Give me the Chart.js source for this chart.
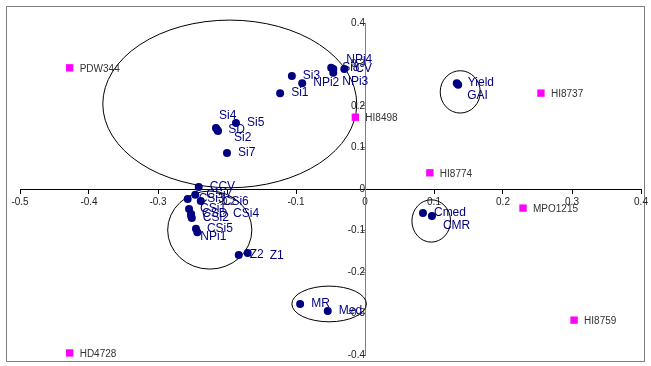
<!DOCTYPE html>
<html><head><meta charset="utf-8">
<script src="https://cdn.jsdelivr.net/npm/chart.js@4.4.1/dist/chart.umd.min.js"></script>
<style>html,body{margin:0;padding:0;background:#fff}canvas{display:block}</style>
</head><body>
<canvas id="c" width="651" height="366"></canvas>
<script>
// Trait vectors (blue dots)
const traitNames = ['Si3','NPi2','Si1','Si8','NPi4','NPi3','CV','Si4','SD','Si2','Si5','Si7',
  'CCV','CSi7','CSi3','CSi6','CSi1','CSD','CSi2','CSi4','CSi5','NPi1','Z2','Z1',
  'Yield','GAI','Cmed','CMR','MR','Med'];
const traitX = [-0.106,-0.091,-0.123,-0.049,-0.046,-0.046,-0.030,-0.216,-0.214,-0.213,-0.187,-0.200,
  -0.241,-0.246,-0.257,-0.238,-0.255,-0.252,-0.251,-0.252,-0.245,-0.243,-0.183,-0.170,
  0.133,0.135,0.084,0.097,-0.094,-0.054];
const traitY = [0.272,0.255,0.231,0.292,0.289,0.280,0.289,0.147,0.142,0.140,0.159,0.087,
  0.005,-0.014,-0.024,-0.029,-0.048,-0.060,-0.070,-0.065,-0.096,-0.104,-0.159,-0.154,
  0.255,0.251,-0.058,-0.065,-0.277,-0.294];
// Genotypes (magenta squares)
const genoNames = ['PDW344','HI8498','HI8737','HI8774','MPO1215','HI8759','HD4728'];
const genoX = [-0.428,-0.014,0.255,0.094,0.229,0.303,-0.428];
const genoY = [0.292,0.173,0.231,0.039,-0.046,-0.316,-0.395];
// Tick labels
const xTickLabels = ['-0.5','-0.4','-0.3','-0.2','-0.1','0','0.1','0.2','0.3','0.4'];
const yTickLabels = ['-0.4','-0.3','-0.2','-0.1','0','0.1','0.2','0.3','0.4'];
// Group ellipses (centre and radii in data units)
const ellipseCX = [-0.196,-0.225,0.138,0.096,-0.052];
const ellipseCY = [0.205,-0.099,0.234,-0.077,-0.277];
const ellipseRX = [0.184,0.061,0.029,0.028,0.054];
const ellipseRY = [0.202,0.094,0.051,0.051,0.043];

// label placement nudges (pixels) for crowded labels
const labelNudge = {NPi4:[13,-9], NPi3:[9,9], Si4:[3,-12], Si2:[16,7], CSi4:[42,-2],
  CSi6:[22,1], NPi1:[3,5], Z1:[22,3], GAI:[9,11], CMR:[11,10]};

const fmt = v => { const s = Number(v.toFixed(1)); return s === 0 ? '0' : String(s); };

const overlay = {
  id: 'overlay',
  beforeDraw(chart) {
    const c = chart.ctx;
    c.save();
    c.fillStyle = '#fff';
    c.fillRect(0, 0, chart.width, chart.height);
    c.strokeStyle = '#7f7f7f';
    c.lineWidth = 1;
    c.strokeRect(6.5, 6.5, 638, 355);
    c.restore();
  },
  beforeDatasetsDraw(chart) {
    const c = chart.ctx, xs = chart.scales.x, ys = chart.scales.y;
    c.save();
    c.strokeStyle = '#000';
    c.lineWidth = 1;
    for (let i = 0; i < ellipseCX.length; i++) {
      const px = xs.getPixelForValue(ellipseCX[i]);
      const py = ys.getPixelForValue(ellipseCY[i]);
      const rx = Math.abs(xs.getPixelForValue(ellipseCX[i] + ellipseRX[i]) - px);
      const ry = Math.abs(ys.getPixelForValue(ellipseCY[i] + ellipseRY[i]) - py);
      c.beginPath();
      c.ellipse(px, py, rx, ry, 0, 0, Math.PI * 2);
      c.stroke();
    }
    c.restore();
  },
  afterDatasetsDraw(chart) {
    const c = chart.ctx;
    c.save();
    c.textBaseline = 'middle';
    c.textAlign = 'left';
    const m0 = chart.getDatasetMeta(0);
    c.font = '12px "Liberation Sans", Arial, sans-serif';
    c.fillStyle = '#000080';
    m0.data.forEach((el, i) => {
      const n = traitNames[i];
      const d = labelNudge[n] || [11, 0];
      c.fillText(n, el.x + d[0], el.y + d[1]);
    });
    const m1 = chart.getDatasetMeta(1);
    c.font = '10px "Liberation Sans", Arial, sans-serif';
    c.fillStyle = '#333';
    m1.data.forEach((el, i) => {
      c.fillText(genoNames[i], el.x + 10, el.y + 1);
    });
    c.restore();
  }
};

new Chart(document.getElementById('c'), {
  type: 'scatter',
  data: {
    datasets: [
      { label: 'traits', data: traitNames.map((n, i) => ({x: traitX[i], y: traitY[i]})), clip: false,
        pointStyle: 'circle', pointRadius: 4, backgroundColor: '#000080', borderColor: '#000080', borderWidth: 0 },
      { label: 'genotypes', data: genoNames.map((n, i) => ({x: genoX[i], y: genoY[i]})), clip: false,
        pointStyle: 'rect', pointRadius: 5.2, backgroundColor: '#ff00ff', borderColor: '#ff00ff', borderWidth: 0 }
    ]
  },
  options: {
    responsive: false, animation: false, events: [],
    layout: { padding: { left: 20, right: 10, top: 23, bottom: 11 } },
    plugins: { legend: { display: false }, tooltip: { enabled: false } },
    scales: {
      x: {
        type: 'linear', position: { y: 0 }, min: -0.5, max: 0.4,
        ticks: { stepSize: 0.1, color: '#222', padding: 3, font: { family: '"Liberation Sans", Arial', size: 10 },
          callback: (v, i) => xTickLabels[i] !== undefined && xTickLabels[i] === fmt(v) ? xTickLabels[i] : fmt(v) },
        grid: { drawOnChartArea: false, drawTicks: true, tickLength: 4, color: '#000' },
        border: { color: '#000', width: 1 },
        afterFit(s) { s.height = 0; }
      },
      y: {
        type: 'linear', position: { x: 0 }, min: -0.4, max: 0.4,
        ticks: { stepSize: 0.1, color: '#222', padding: 2, font: { family: '"Liberation Sans", Arial', size: 10 },
          callback: (v, i) => yTickLabels[i] !== undefined && yTickLabels[i] === fmt(v) ? yTickLabels[i] : fmt(v) },
        grid: { drawOnChartArea: false, drawTicks: true, tickLength: 4, color: '#808080' },
        border: { color: '#808080', width: 1 },
        afterFit(s) { s.width = 0; }
      }
    }
  },
  plugins: [overlay]
});
</script>
</body></html>
